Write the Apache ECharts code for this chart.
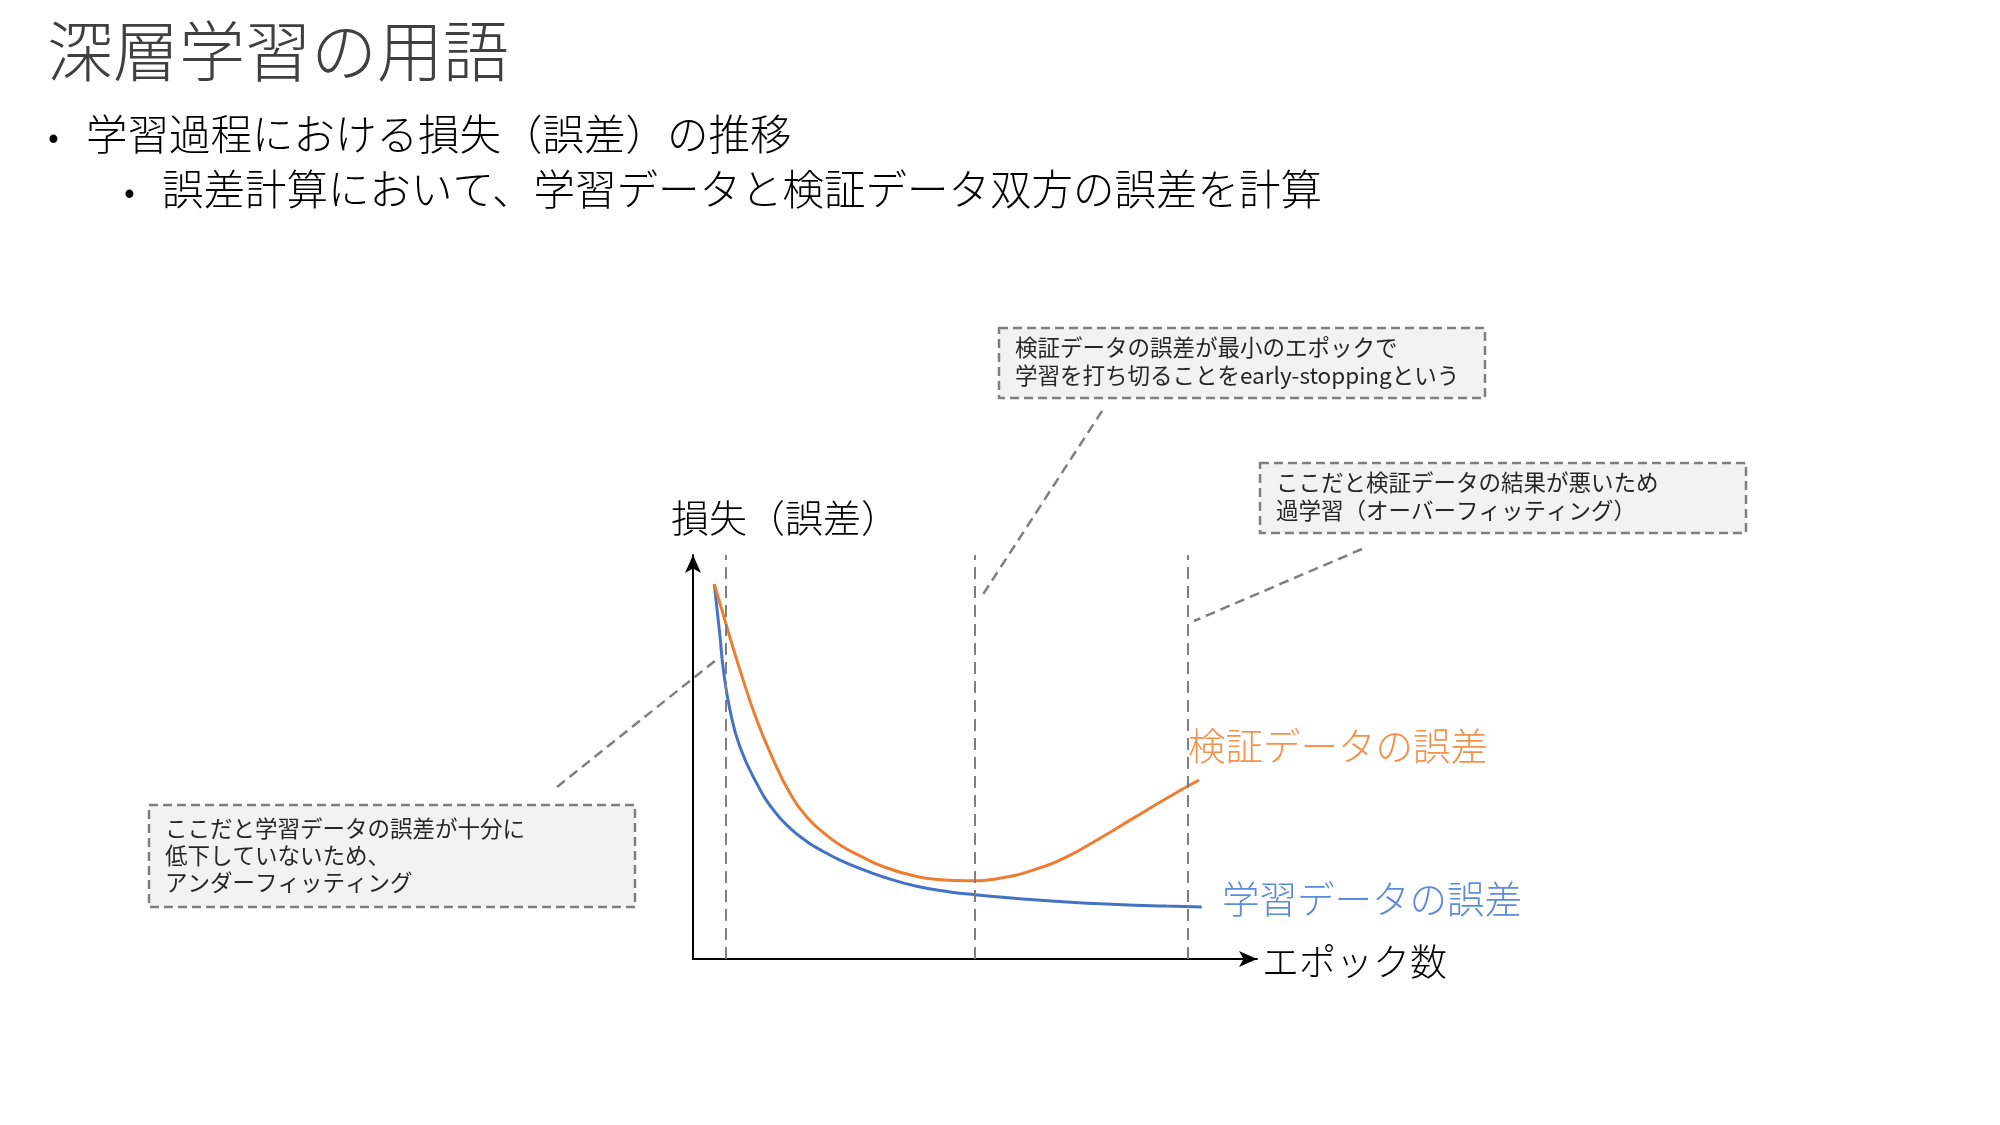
<!DOCTYPE html>
<html>
<head>
<meta charset="utf-8">
<script src="https://cdn.jsdelivr.net/npm/echarts@6/dist/echarts.min.js"></script>
<style>
html,body{margin:0;padding:0;background:#fff;}
#chart{width:2000px;height:1125px;}
</style>
</head>
<body>
<div id="chart"></div>
<script>
// ---- data (epoch, loss) ----
const valEpochs   = [3.78, 5.98, 8.33, 11.29, 14.24, 17.2, 20.16, 23.1, 26.06, 29.8, 33.74, 39.66, 44.0, 48.5, 54.43, 60.28, 66.26, 72.16, 78.01, 83.99, 89.72];
const valLoss     = [92.8, 82.3, 71.5, 59.2, 49.3, 41.0, 35.2, 31.3, 28.2, 25.4, 22.85, 20.4, 19.6, 19.35, 20.0, 22.0, 25.3, 29.9, 34.8, 39.8, 44.3];
const trainEpochs = [3.78, 4.79, 5.37, 6.56, 8.33, 11.29, 14.24, 17.2, 20.16, 23.1, 26.06, 29.8, 33.74, 39.66, 45.57, 50.0, 57.4, 66.26, 75.12, 83.99, 90.2];
const trainLoss   = [92.8, 79.8, 71.8, 61.6, 52.5, 43.5, 36.9, 32.4, 29.1, 26.6, 24.5, 22.3, 20.3, 18.0, 16.6, 15.9, 15.0, 14.1, 13.5, 13.1, 12.9];
const markerEpochs = [5.85, 50, 87.8];

const titleText = '深層学習の用語';
const bullet1 = '学習過程における損失（誤差）の推移';
const bullet2 = '誤差計算において、学習データと検証データ双方の誤差を計算';
const yAxisName = '損失（誤差）';
const xAxisName = 'エポック数';
const valLabel = '検証データの誤差';
const trainLabel = '学習データの誤差';
const note1 = ['検証データの誤差が最小のエポックで', '学習を打ち切ることをearly-stoppingという'];
const note2 = ['ここだと検証データの結果が悪いため', '過学習（オーバーフィッティング）'];
const note3 = ['ここだと学習データの誤差が十分に', '低下していないため、', 'アンダーフィッティング'];

const FONT = '"Noto Sans CJK JP", "Noto Sans", sans-serif';
const chart = echarts.init(document.getElementById('chart'));

function box(x, y, w, h, lines, lineH, firstCenter) {
  return {
    type: 'group',
    children: [
      { type: 'rect', shape: { x: x, y: y, width: w, height: h },
        style: { fill: '#f2f2f2', stroke: '#7f7f7f', lineWidth: 2.5, lineDash: [9, 5] } },
      { type: 'text', x: x + 16, y: y + firstCenter - lineH / 2,
        style: { text: lines.join('\n'), font: '400 22.5px ' + FONT, fill: '#262626', lineHeight: lineH } }
    ]
  };
}
function leader(x1, y1, x2, y2) {
  return { type: 'line', shape: { x1: x1, y1: y1, x2: x2, y2: y2 },
    style: { stroke: '#7f7f7f', lineWidth: 2.5, lineDash: [10, 6] } };
}

const option = {
  backgroundColor: '#ffffff',
  animation: false,
  grid: { left: 693, top: 555, width: 564, height: 404 },
  xAxis: {
    type: 'value', min: 0, max: 100,
    axisLine: { show: true, symbol: ['none', 'arrow'], symbolSize: [12, 18], lineStyle: { color: '#000', width: 2 } },
    axisTick: { show: false }, axisLabel: { show: false }, splitLine: { show: false }
  },
  yAxis: {
    type: 'value', min: 0, max: 100,
    axisLine: { show: true, symbol: ['none', 'arrow'], symbolSize: [12, 18], lineStyle: { color: '#000', width: 2 } },
    axisTick: { show: false }, axisLabel: { show: false }, splitLine: { show: false }
  },
  series: [
    {
      name: 'train', type: 'line', smooth: 0.5, symbol: 'none',
      data: trainEpochs.map((e, i) => [e, trainLoss[i]]),
      lineStyle: { color: '#4472c4', width: 3 },
      markLine: {
        silent: true, symbol: 'none', label: { show: false },
        lineStyle: { color: '#7f7f7f', width: 2, type: [12, 7] },
        data: markerEpochs.map(e => ({ xAxis: e }))
      }
    },
    {
      name: 'val', type: 'line', smooth: 0.5, symbol: 'none',
      data: valEpochs.map((e, i) => [e, valLoss[i]]),
      lineStyle: { color: '#ed7d31', width: 3 }
    }
  ],
  graphic: [
    { type: 'text', x: 47, y: 51, style: { text: titleText, font: '300 66px ' + FONT, fill: '#404040', verticalAlign: 'middle' } },
    { type: 'text', x: 48, y: 136, style: { text: '•', font: '400 32px ' + FONT, fill: '#000', verticalAlign: 'middle' } },
    { type: 'text', x: 86, y: 134, style: { text: bullet1, font: '300 41.5px ' + FONT, fill: '#000', verticalAlign: 'middle' } },
    { type: 'text', x: 124, y: 191, style: { text: '•', font: '400 32px ' + FONT, fill: '#000', verticalAlign: 'middle' } },
    { type: 'text', x: 162, y: 189, style: { text: bullet2, font: '300 41.5px ' + FONT, fill: '#000', verticalAlign: 'middle' } },

    { type: 'text', x: 671, y: 518, style: { text: yAxisName, font: '300 38px ' + FONT, fill: '#000', verticalAlign: 'middle' } },
    { type: 'text', x: 1262, y: 962, style: { text: xAxisName, font: '300 37px ' + FONT, fill: '#000', verticalAlign: 'middle' } },
    { type: 'text', x: 1188, y: 746, style: { text: valLabel, font: '300 37.5px ' + FONT, fill: '#f4914a', verticalAlign: 'middle' } },
    { type: 'text', x: 1222, y: 899, style: { text: trainLabel, font: '300 37.5px ' + FONT, fill: '#5b8bd9', verticalAlign: 'middle' } },

    box(999, 328, 486, 70, note1, 28, 19),
    box(1260, 463, 486, 70, note2, 28, 19),
    box(149, 805, 486, 102, note3, 27, 23),

    leader(1102, 411, 982, 596),
    leader(1362, 549, 1194, 621),
    leader(557, 787, 716, 660)
  ]
};
chart.setOption(option);
</script>
</body>
</html>
